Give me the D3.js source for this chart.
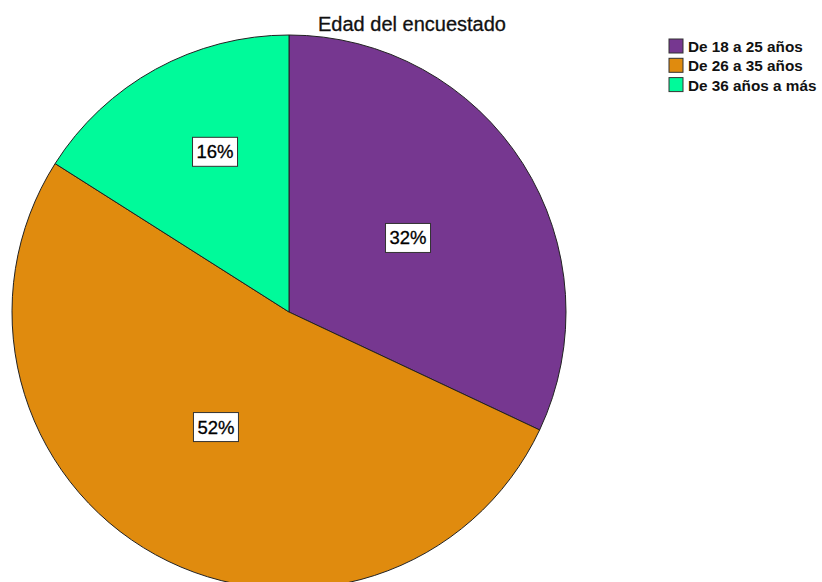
<!DOCTYPE html>
<html><head><meta charset="utf-8">
<script src="https://cdn.jsdelivr.net/npm/d3@7"></script>
<style>body{margin:0;background:#fff;} svg{display:block;}</style>
</head><body>
<svg id="c" width="822" height="582"></svg>
<script>
const categories = ["De 18 a 25 años", "De 26 a 35 años", "De 36 años a más"];
const values = [32, 52, 16];
const colors = ["#763790", "#E08B0E", "#00FA9A"];
const title = "Edad del encuestado";

const svg = d3.select("#c");
const cx = 289, cy = 312, R = 277;
const pie = d3.pie().sort(null).value(d => d)(values);
const arc = d3.arc().innerRadius(0).outerRadius(R);
const g = svg.append("g").attr("transform", `translate(${cx},${cy})`);
g.selectAll("path").data(pie).enter().append("path")
  .attr("d", arc).attr("fill", (d,i) => colors[i])
  .attr("stroke", "#222").attr("stroke-width", 1);

// label placement (layout): radius fraction and angular shift (radians)
const labelFrac = [0.506, 0.492, 0.637];
const labelShift = [0.009, 0.063, 0.07];
pie.forEach((d, i) => {
  const a = (d.startAngle + d.endAngle) / 2 + labelShift[i];
  const r = R * labelFrac[i];
  const x = r * Math.sin(a), y = -r * Math.cos(a);
  const lg = g.append("g").attr("transform", `translate(${x},${y})`);
  lg.append("rect").attr("x", -22.5).attr("y", -14.5).attr("width", 45).attr("height", 29)
    .attr("fill", "#fff").attr("stroke", "#333").attr("stroke-width", 1);
  lg.append("text").attr("text-anchor", "middle").attr("y", 6.5)
    .attr("font-family", "Liberation Sans, Arial, sans-serif").attr("font-size", 18.5)
    .attr("fill", "#000").attr("stroke", "#000").attr("stroke-width", 0.3)
    .text(d3.format(".0f")(values[i]) + "%");
});

svg.append("text").attr("x", 412).attr("y", 31).attr("text-anchor", "middle")
  .attr("font-family", "Liberation Sans, Arial, sans-serif").attr("font-size", 20)
  .attr("fill", "#111").attr("stroke", "#111").attr("stroke-width", 0.3).text(title);

const leg = svg.append("g").attr("transform", "translate(669,39)");
categories.forEach((c, i) => {
  const row = leg.append("g").attr("transform", `translate(0,${i*19.3})`);
  row.append("rect").attr("width", 14).attr("height", 14)
    .attr("fill", colors[i]).attr("stroke", "#333").attr("stroke-width", 1);
  row.append("text").attr("x", 19).attr("y", 13)
    .attr("font-family", "Liberation Sans, Arial, sans-serif").attr("font-size", 15.3)
    .attr("font-weight", "bold").attr("fill", "#111").text(c);
});
</script>
</body></html>
